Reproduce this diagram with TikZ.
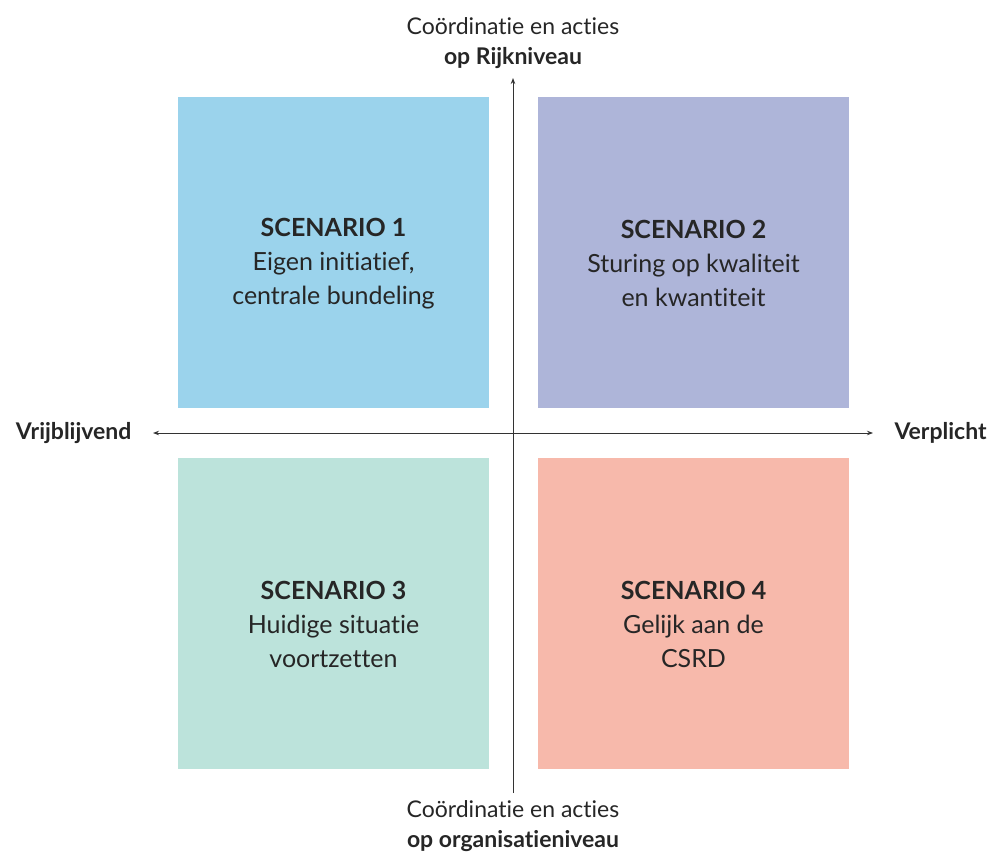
\documentclass[tikz,border=0pt]{standalone}
\usepackage{fontspec}
\setmainfont[Ligatures=NoCommon]{Lato}
\usepackage{tikz}
\usetikzlibrary{arrows.meta,positioning}

\definecolor{sceneblue}{HTML}{9BD3EC}
\definecolor{scenepurple}{HTML}{AEB5D9}
\definecolor{scenegreen}{HTML}{BCE3DB}
\definecolor{scenered}{HTML}{F7B9AB}
\definecolor{axisgray}{HTML}{333333}

\tikzset{
	scenebox/.style={minimum width=311pt, minimum height=311pt, inner sep=0pt},
	scenetext/.style={align=center, font=\fontsize{25}{34}\selectfont, text=black!85},
	axislabel/.style={align=center, font=\fontsize{23}{30}\selectfont, text=black!85},
	axisline/.style={line width=0.9pt, draw=axisgray}
}

\begin{document}
\begin{tikzpicture}[x=1pt,y=-1pt]
		\useasboundingbox (0,0) rectangle (996,854);
		\node [scenebox, fill=sceneblue](sc1) at (333.5,252.5) {};
		\node [scenebox, fill=scenepurple](sc2) at (693.5,252.5) {};
		\node [scenebox, fill=scenegreen](sc3) at (333.5,613.5) {};
		\node [scenebox, fill=scenered](sc4) at (693.5,613.5) {};
		\node [scenetext](txt1) at ([yshift=-11pt]sc1.center) {\textbf{SCENARIO 1}\\Eigen initiatief,\\centrale bundeling};
		\node [scenetext](txt2) at ([yshift=-11pt]sc2.center) {\textbf{SCENARIO 2}\\Sturing op kwaliteit\\en kwantiteit};
		\node [scenetext](txt3) at ([yshift=-11pt]sc3.center) {\textbf{SCENARIO 3}\\Huidige situatie\\voortzetten};
		\node [scenetext](txt4) at ([yshift=-11pt]sc4.center) {\textbf{SCENARIO 4}\\Gelijk aan de\\CSRD};
		% axes
		\coordinate (top) at (513,78);
		\coordinate (bottom) at (513,793);
		\coordinate (left) at (153,433);
		\coordinate (right) at (873,433);
		\draw [axisline, -{Stealth[length=6pt, width=4.5pt]}] (bottom) -- (top);
		\draw [axisline, {Stealth[length=6pt, width=4.5pt]}-{Stealth[length=6pt, width=4.5pt]}] (left) -- (right);
		\node [axislabel, above=6pt of top](rijk) {Coördinatie en acties\\\textbf{op Rijkniveau}};
		\node [axislabel, below=4pt of bottom](org) {Coördinatie en acties\\\textbf{op organisatieniveau}};
		\node [axislabel, left=18pt of left](vrij) {\textbf{Vrijblijvend}};
		\node [axislabel, right=18pt of right](verpl) {\textbf{Verplicht}};
		\end{tikzpicture}
\end{document}
